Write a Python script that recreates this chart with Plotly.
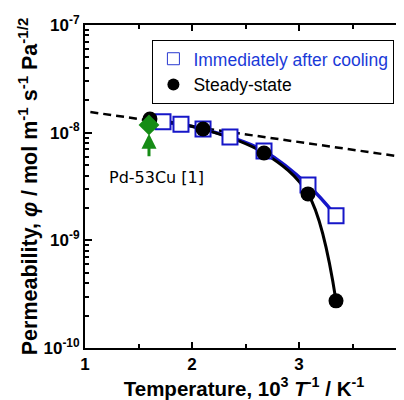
import plotly.graph_objects as go

# Data
ss_x = [1.607, 2.103, 2.673, 3.084, 3.346]
ss_y = [1.34e-8, 1.08e-8, 6.48e-9, 2.70e-9, 2.74e-10]

ic_x = [1.729, 1.897, 2.103, 2.355, 2.673, 3.084, 3.346]
ic_y = [1.26e-8, 1.20e-8, 1.08e-8, 9.12e-9, 6.76e-9, 3.27e-9, 1.69e-9]

ref_x = [1.05, 4.0]
ref_y = [1.555e-8, 5.89e-9]

lit_x = [1.598]
lit_y = [1.18e-8]

ytick_vals = [1e-10, 1e-9, 1e-8, 1e-7]
ytick_text = ["10<sup>-10</sup>", "10<sup>-9</sup>", "10<sup>-8</sup>", "10<sup>-7</sup>"]
minor_vals = [m * 10.0 ** e for e in (-10, -9, -8) for m in range(2, 10)]

BLUE = "#1616c8"
GREEN = "#168c16"
FONT = "Arial, Liberation Sans, sans-serif"

fig = go.Figure()
fig.add_trace(go.Scatter(x=ref_x, y=ref_y, mode="lines", showlegend=False,
                         line=dict(color="black", width=2.5, dash="8px,5px")))
fig.add_trace(go.Scatter(x=ic_x, y=ic_y, mode="lines", showlegend=False,
                         line=dict(color=BLUE, width=3.5, shape="spline")))
fig.add_trace(go.Scatter(x=ss_x, y=ss_y, mode="lines", showlegend=False,
                         line=dict(color="black", width=3, shape="spline", smoothing=1.0)))
fig.add_trace(go.Scatter(x=ic_x, y=ic_y, mode="markers", showlegend=False,
                         marker=dict(symbol="square", size=15, color="white",
                                     line=dict(color=BLUE, width=2))))
fig.add_trace(go.Scatter(x=ss_x, y=ss_y, mode="markers", showlegend=False,
                         marker=dict(symbol="circle", size=15, color="black",
                                     line=dict(color="black", width=0))))
fig.add_trace(go.Scatter(x=lit_x, y=lit_y, mode="markers", showlegend=False,
                         marker=dict(symbol="diamond", size=16, color=GREEN,
                                     line=dict(width=0))))
# legend entries
fig.add_trace(go.Scatter(x=[None], y=[None], mode="markers",
                         name='<span style="color:#1a3ad8">Immediately after cooling</span>',
                         marker=dict(symbol="square", size=12, color="white",
                                     line=dict(color="#2a3ad0", width=1))))
fig.add_trace(go.Scatter(x=[None], y=[None], mode="markers", name="Steady-state",
                         marker=dict(symbol="circle", size=12, color="black")))
# right axis ticks
fig.add_trace(go.Scatter(x=[None], y=[None], yaxis="y2", showlegend=False))

fig.add_annotation(x=lit_x[0], y=-8.01, xref="x", yref="y", text="",
                   showarrow=True, ax=0, ay=24, arrowcolor=GREEN, arrowwidth=3,
                   arrowhead=2, arrowsize=1)
fig.add_annotation(x=1.664, y=-8.42, xref="x", yref="y", text="Pd-53Cu [1]",
                   showarrow=False, font=dict(family="DejaVu Sans", size=16, color="black"))

fig.add_shape(type="line", xref="paper", yref="paper", x0=1, x1=1, y0=0, y1=1,
              line=dict(color="#555555", width=1, dash="dot"))

fig.update_layout(
    width=396, height=392,
    margin=dict(l=77, r=1, t=17, b=52, autoexpand=False),
    paper_bgcolor="white", plot_bgcolor="white",
    font=dict(family=FONT, color="black"),
    xaxis=dict(range=[1, 3.972], tickvals=[1, 2, 3], ticktext=["1", "2", "3"],
               ticks="inside", ticklen=6, tickwidth=2, tickcolor="black",
               minor=dict(tickvals=[1.5, 2.5, 3.5], ticks="inside", ticklen=4, tickwidth=2, tickcolor="black"),
               showline=True, linewidth=2, linecolor="black", mirror="ticks",
               showgrid=False, zeroline=False, automargin=False,
               tickfont=dict(size=17, weight="bold"),
               title=dict(text="Temperature, 10<sup>3</sup> <i>T</i><sup>-1</sup> / K<sup>-1</sup>",
                          font=dict(size=20.5, weight="bold"))),
    yaxis=dict(type="log", range=[-10, -7], tickvals=ytick_vals, ticktext=ytick_text,
               ticks="inside", ticklen=7, tickwidth=2, tickcolor="black",
               minor=dict(tickvals=minor_vals, ticks="inside", ticklen=4, tickwidth=1.5, tickcolor="black"),
               showline=True, linewidth=2, linecolor="black",
               showgrid=False, zeroline=False, automargin=False,
               tickfont=dict(size=17, weight="bold"),
               title=dict(text="Permeability, <i>φ</i> / mol m<sup>-1</sup> s<sup>-1</sup> Pa<sup>-1/2</sup>",
                          font=dict(size=21.5, weight="bold"), standoff=0)),
    yaxis2=dict(type="log", range=[-10, -7], overlaying="y", side="right",
                tickvals=ytick_vals, showticklabels=False,
                ticks="inside", ticklen=7, tickwidth=2, tickcolor="black",
                showline=False, showgrid=False, zeroline=False, automargin=False),
    legend=dict(x=0.212, y=0.954, xanchor="left", yanchor="top",
                bgcolor="white", bordercolor="black", borderwidth=1,
                font=dict(size=17.5, color="black"),
                itemwidth=30, tracegroupgap=0, entrywidth=214),
)

fig.write_html("out.html")
